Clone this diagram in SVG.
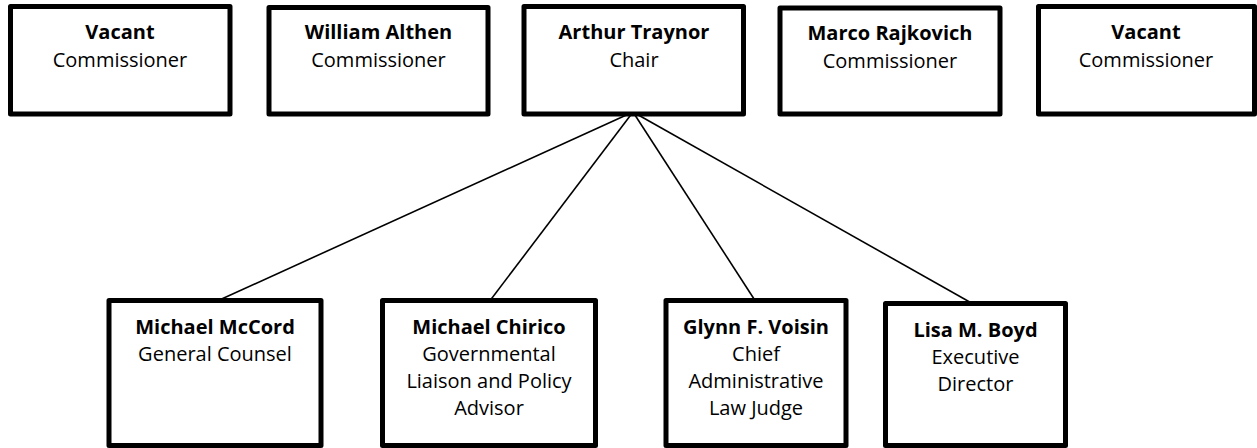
<svg xmlns="http://www.w3.org/2000/svg" width="1257" height="448" viewBox="0 0 1257 448">
<style>
.box{fill:#fff;stroke:#000;stroke-width:5;stroke-linejoin:round}
.t{font-family:"Open Sans","Noto Sans","Liberation Sans",sans-serif;font-size:20px;text-anchor:middle;fill:#000}
.b{font-weight:bold}
.conn line{stroke:#000;stroke-width:1.6}
</style>
<rect width="1257" height="448" fill="#fff"/>
<g id="connectors" class="conn">
<line x1="633" y1="112" x2="215" y2="302"/>
<line x1="633" y1="112" x2="489" y2="302"/>
<line x1="633" y1="112" x2="756" y2="302"/>
<line x1="633" y1="112" x2="975" y2="305"/>
</g>
<g id="vacant1">
<rect class="box" x="10.5" y="6.5" width="219.5" height="107.5"/>
<text class="t b" x="120" y="39">Vacant</text>
<text class="t" x="120" y="67">Commissioner</text>
</g>
<g id="althen">
<rect class="box" x="269" y="7.5" width="219" height="106.5"/>
<text class="t b" x="378.5" y="39">William Althen</text>
<text class="t" x="378.5" y="67">Commissioner</text>
</g>
<g id="traynor">
<rect class="box" x="524" y="6.5" width="219.5" height="107.5"/>
<text class="t b" x="634" y="39">Arthur Traynor</text>
<text class="t" x="634" y="67">Chair</text>
</g>
<g id="rajkovich">
<rect class="box" x="780" y="8" width="220" height="106"/>
<text class="t b" x="890" y="40">Marco Rajkovich</text>
<text class="t" x="890" y="68">Commissioner</text>
</g>
<g id="vacant2">
<rect class="box" x="1038.5" y="6.5" width="216" height="107.5"/>
<text class="t b" x="1146" y="39">Vacant</text>
<text class="t" x="1146" y="67">Commissioner</text>
</g>
<g id="mccord">
<rect class="box" x="109" y="300.5" width="212" height="145"/>
<text class="t b" x="215" y="334">Michael McCord</text>
<text class="t" x="215" y="361">General Counsel</text>
</g>
<g id="chirico">
<rect class="box" x="382.5" y="300.5" width="213" height="145"/>
<text class="t b" x="489" y="334">Michael Chirico</text>
<text class="t" x="489" y="361">Governmental</text>
<text class="t" x="489" y="388">Liaison and Policy</text>
<text class="t" x="489" y="415">Advisor</text>
</g>
<g id="voisin">
<rect class="box" x="666" y="300.5" width="180" height="145"/>
<text class="t b" x="756" y="334">Glynn F. Voisin</text>
<text class="t" x="756" y="361">Chief</text>
<text class="t" x="756" y="388">Administrative</text>
<text class="t" x="756" y="415">Law Judge</text>
</g>
<g id="boyd">
<rect class="box" x="885.5" y="303.5" width="180" height="142"/>
<text class="t b" x="975.5" y="337">Lisa M. Boyd</text>
<text class="t" x="975.5" y="364">Executive</text>
<text class="t" x="975.5" y="391">Director</text>
</g>
</svg>
